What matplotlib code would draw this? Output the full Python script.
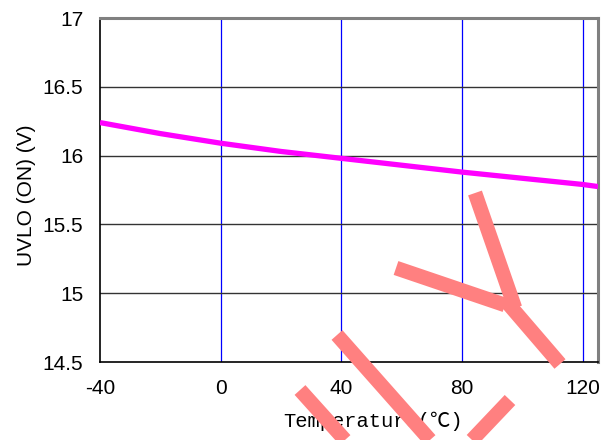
import numpy as np
import matplotlib.pyplot as plt
from matplotlib.lines import Line2D

plt.rcParams['axes.unicode_minus'] = False

# данные с графика
temp = [-40, -20, 0, 20, 40, 60, 80, 100, 120, 125]
uvlo_on = [16.24, 16.16, 16.09, 16.03, 15.98, 15.93, 15.88, 15.835, 15.79, 15.775]

x_ticks = [-40, 0, 40, 80, 120]
y_ticks = [14.5, 15, 15.5, 16, 16.5, 17]
y_labels = ['14.5', '15', '15.5', '16', '16.5', '17']

W, H = 613, 440
fig = plt.figure(figsize=(W / 100, H / 100), dpi=100)
ax = fig.add_axes([100 / W, 1 - 362 / H, 498 / W, 344 / H])

ax.plot(temp, uvlo_on, color='#ff00ff', lw=3.8, solid_capstyle='butt', zorder=3)

ax.set_xlim(-40, 125)
ax.set_ylim(14.5, 17)
ax.set_xticks(x_ticks)
ax.set_xticklabels([str(v) for v in x_ticks], fontsize=15, family='Liberation Sans')
ax.set_yticks(y_ticks)
ax.set_yticklabels(y_labels, fontsize=15, family='Liberation Sans')

# сетка: вертикальные синие, горизонтальные тёмные
for xv in x_ticks[1:]:
    ax.axvline(xv, color='#0000ff', lw=0.9, zorder=1)
for yv in y_ticks[1:-1]:
    ax.axhline(yv, color='#333333', lw=1.0, zorder=1)

for side in ['left', 'bottom']:
    ax.spines[side].set_color('black')
    ax.spines[side].set_linewidth(1.2)
for side in ['top', 'right']:
    ax.spines[side].set_color('#808080')
    ax.spines[side].set_linewidth(2.2)

ax.tick_params(axis='x', length=0, pad=12)
ax.tick_params(axis='y', length=0, pad=12)

fig.text(27 / W, 1 - 195 / H, 'UVLO (ON) (V)', rotation=90, ha='center', va='center',
         fontsize=15, family='Liberation Sans')
fig.text(373 / W, 1 - 421 / H, 'Temperature(℃)', ha='center', va='center',
         fontsize=14.7, family=['Liberation Mono', 'Noto Sans CJK SC'])

# водяной знак
strokes = [
    [(475, 193), (515, 308)],
    [(396, 268), (505, 305)],
    [(505, 300), (560, 364)],
    [(337, 335), (430, 440)],
    [(300, 390), (345, 440)],
    [(510, 400), (472, 440)],
]
for (x0, y0), (x1, y1) in strokes:
    fig.add_artist(Line2D([x0 / W, x1 / W], [1 - y0 / H, 1 - y1 / H],
                          transform=fig.transFigure, color='#ff8080',
                          lw=10.5, solid_capstyle='butt', zorder=10))

fig.savefig('out.png', dpi=100)
